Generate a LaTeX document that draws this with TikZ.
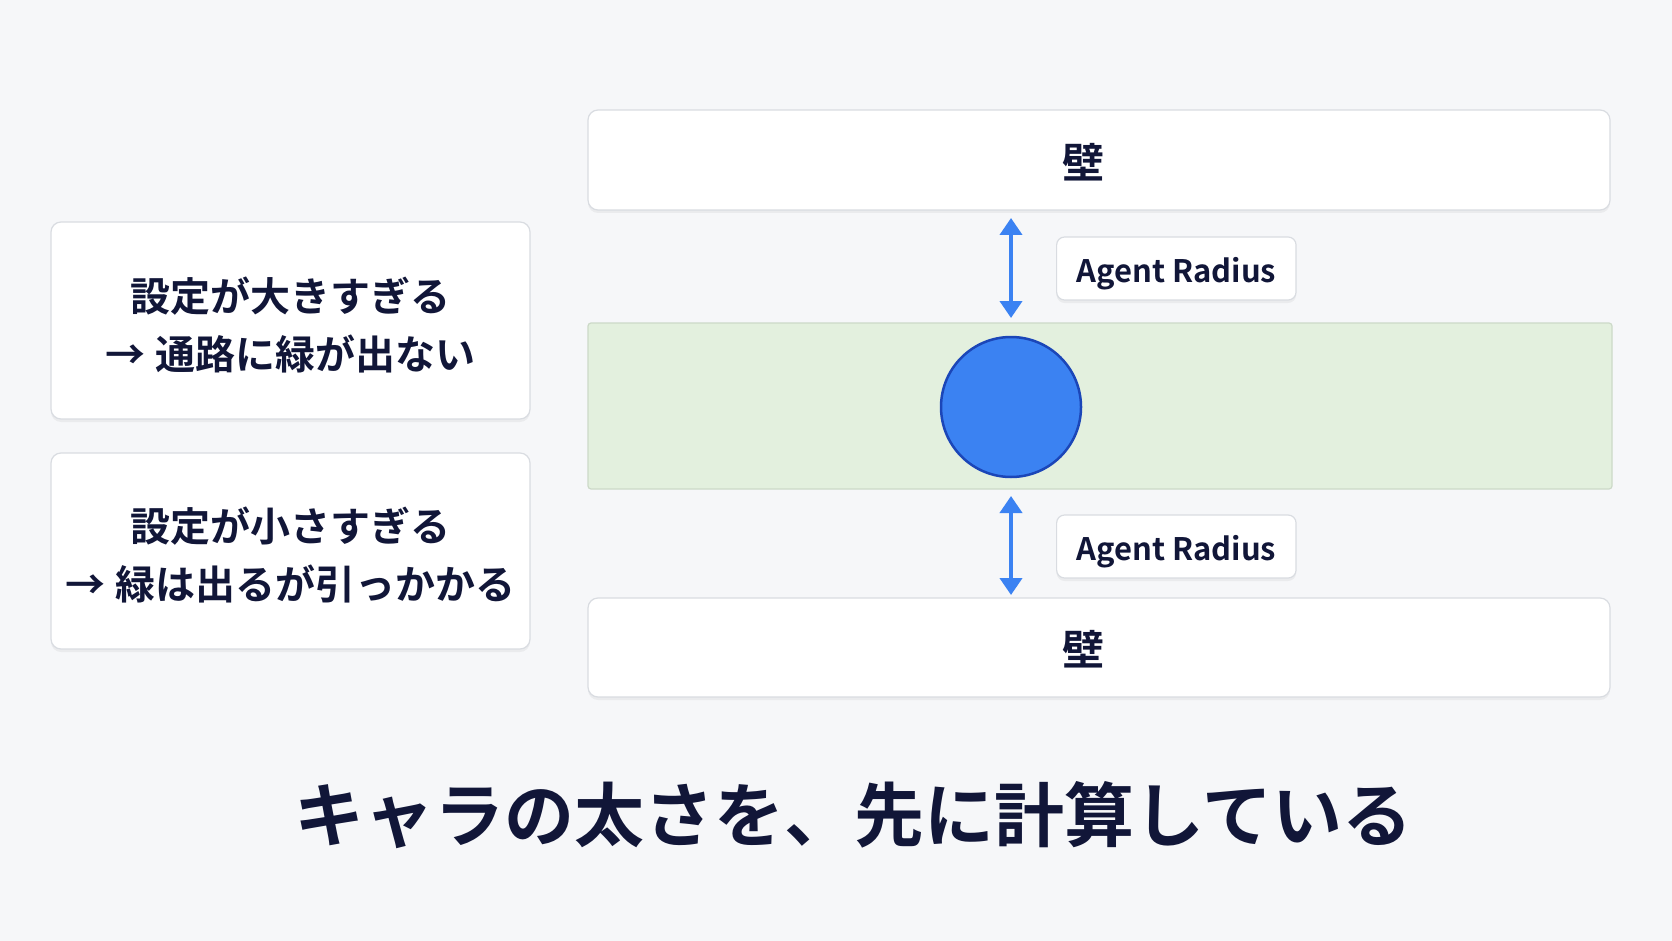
\documentclass[tikz,border=0pt]{standalone}
\usepackage{fontspec}
\setmainfont{Noto Sans CJK JP}[BoldFont={Noto Sans CJK JP Bold}]
\usetikzlibrary{arrows.meta,shadows}
\definecolor{pagebg}{HTML}{F6F7F9}
\definecolor{boxline}{HTML}{D9DCE1}
\definecolor{inkblue}{HTML}{111638}
\definecolor{bandfill}{HTML}{E3F0DE}
\definecolor{bandline}{HTML}{CCD9C8}
\definecolor{agentblue}{HTML}{3B82F2}
\definecolor{agentline}{HTML}{1B46B8}
\tikzset{
  card/.style={draw=boxline, fill=white, line width=1.2pt, rounded corners=10pt,
    drop shadow={shadow xshift=0pt, shadow yshift=-3pt, opacity=0.12, fill=black!40}},
  notetext/.style={text=inkblue, align=center, font=\fontsize{40}{58}\selectfont\bfseries},
  walltext/.style={text=inkblue, font=\fontsize{42}{48}\selectfont\bfseries},
  tag/.style={card, rounded corners=8pt, text=inkblue,
    font=\fontsize{31}{36}\selectfont\bfseries,
    inner xsep=20pt, minimum height=63pt, text height=28pt, text depth=0pt},
  gap/.style={{Triangle[length=17pt,width=22pt]}-{Triangle[length=17pt,width=22pt]},
    agentblue, line width=4pt}
}
\begin{document}
\begin{tikzpicture}[x=1pt, y=-1pt]
% page
\fill[pagebg] (0,0) rectangle (1672,941);
\useasboundingbox (0,0) rectangle (1672,941);
% left notes
\node[card, minimum width=479pt, minimum height=197pt] (big) at (290.5,320.5) {};
\node[notetext] (bigText) at ([yshift=-4pt]big.center)
  {設定が大きすぎる\\→\ 通路に緑が出ない};
\node[card, minimum width=479pt, minimum height=196pt] (small) at (290.5,551) {};
\node[notetext] (smallText) at ([yshift=-4pt]small.center)
  {設定が小さすぎる\\→ 緑は出るが引っかかる};
% walls and walkable band
\node[card, minimum width=1022pt, minimum height=100pt] (wallTop) at (1099,160) {};
\node[walltext] (wallTopText) at (1083,162) {壁};
\node[draw=bandline, fill=bandfill, line width=1.2pt, rounded corners=3pt,
  minimum width=1024pt, minimum height=166pt] (band) at (1100,406) {};
\node[card, minimum width=1022pt, minimum height=99pt] (wallBot) at (1099,647.5) {};
\node[walltext] (wallBotText) at (1083,649.5) {壁};
% agent
\node[circle, draw=agentline, fill=agentblue, line width=2.5pt,
  minimum size=140pt, inner sep=0pt] (agent) at (1011,407) {};
% radius gaps
\coordinate (upA) at (1011,218);
\coordinate (upB) at (1011,318);
\coordinate (loA) at (1011,496);
\coordinate (loB) at (1011,595);
\draw[gap] (upA) -- (upB);
\draw[gap] (loA) -- (loB);
\node[tag, anchor=west] (radTop) at (1056,268.5) {Agent Radius};
\node[tag, anchor=west] (radBot) at (1056,546.5) {Agent Radius};
% caption
\node[text=inkblue, font=\fontsize{70}{80}\selectfont\bfseries] (caption) at (853,815)
  {キャラの太さを、先に計算している};
\end{tikzpicture}
\end{document}
